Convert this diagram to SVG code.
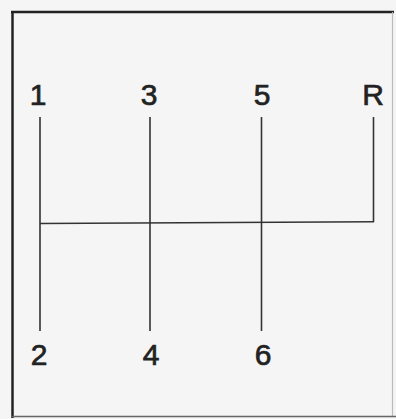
<svg xmlns="http://www.w3.org/2000/svg" width="396" height="419" viewBox="0 0 396 419">
<style>
.lbl{font-family:"Liberation Sans",Arial,sans-serif;font-size:30px;fill:#222;stroke:#222;stroke-width:0.7;text-anchor:middle}
.ln{stroke:#333;stroke-width:1.6;fill:none}
</style>
<rect x="0" y="0" width="396" height="419" fill="#f5f5f5"/>
<g id="frame">
<line x1="11" y1="12" x2="394" y2="12" stroke="#222" stroke-width="2.5"/>
<line x1="12.5" y1="11" x2="12.5" y2="418" stroke="#222" stroke-width="2.5"/>
<line x1="392.5" y1="12" x2="392.5" y2="417" stroke="#bbb" stroke-width="1.2"/>
<line x1="12" y1="416.5" x2="396" y2="416.5" stroke="#666" stroke-width="1.5"/>
</g>
<g id="connectors">
<line class="ln" x1="40" y1="117" x2="40" y2="331"/>
<line class="ln" x1="150" y1="117" x2="150" y2="331"/>
<line class="ln" x1="261.5" y1="117" x2="261.5" y2="331"/>
<line class="ln" x1="373.5" y1="117" x2="373.5" y2="222"/>
<line class="ln" x1="40" y1="223.5" x2="374" y2="221.8"/>
</g>
<g id="g1"><text class="lbl" x="38" y="105">1</text></g>
<g id="g3"><text class="lbl" x="149" y="105">3</text></g>
<g id="g5"><text class="lbl" x="262" y="105">5</text></g>
<g id="gR"><text class="lbl" x="373" y="105">R</text></g>
<g id="g2"><text class="lbl" x="39" y="365">2</text></g>
<g id="g4"><text class="lbl" x="151" y="365">4</text></g>
<g id="g6"><text class="lbl" x="263" y="365">6</text></g>
</svg>
